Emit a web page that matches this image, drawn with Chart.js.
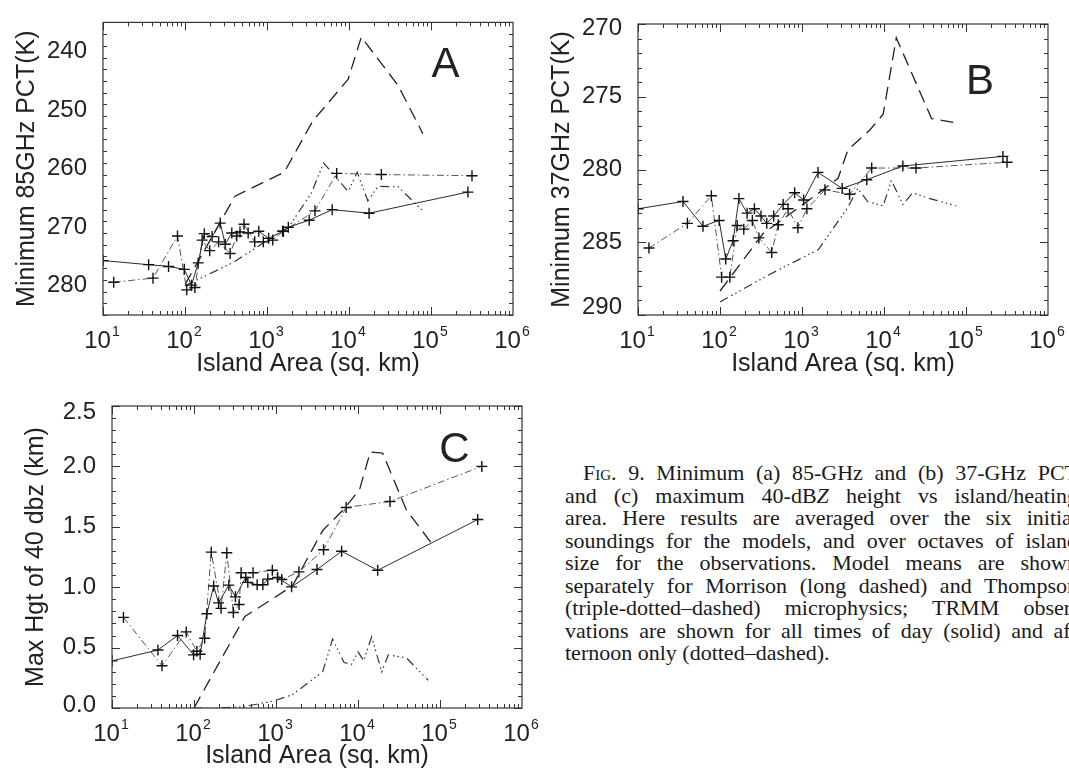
<!DOCTYPE html>
<html>
<head>
<meta charset="utf-8">
<script src="https://cdn.jsdelivr.net/npm/chart.js@4.4.1/dist/chart.umd.min.js"></script>
<style>
  body { margin: 0; width: 1069px; height: 772px; overflow: hidden; background: #fff; position: relative; }
  canvas { position: absolute; }
  #caption { position: absolute; left: 565px; top: 462px; font-family: "Liberation Serif", "Times New Roman", serif;
             font-size: 22px; line-height: 22.5px; color: #1a1a1a; }
  #caption .ln { width: 513px; height: 22.5px; text-align: justify; text-align-last: justify; }
  #caption .first { padding-left: 18px; width: 495px; }
  #caption .last { text-align-last: left; }
  .sc { font-variant: small-caps; }
</style>
</head>
<body>
<canvas id="panelA" width="535" height="385" style="left:0;top:0"></canvas>
<canvas id="panelB" width="534" height="385" style="left:535px;top:0"></canvas>
<canvas id="panelC" width="560" height="387" style="left:0;top:385px"></canvas>

<div id="caption">
  <div class="ln first"><span class="sc">Fig</span>. 9. Minimum (a) 85-GHz and (b) 37-GHz PCT</div>
  <div class="ln">and (c) maximum 40-dB<i>Z</i> height vs island/heating</div>
  <div class="ln">area. Here results are averaged over the six initial</div>
  <div class="ln">soundings for the models, and over octaves of island</div>
  <div class="ln">size for the observations. Model means are shown</div>
  <div class="ln">separately for Morrison (long dashed) and Thompson</div>
  <div class="ln">(triple-dotted–dashed) microphysics; TRMM obser-</div>
  <div class="ln">vations are shown for all times of day (solid) and af-</div>
  <div class="ln last">ternoon only (dotted–dashed).</div>
</div>

<script>
// tick values
const decadeTicks = [10, 100, 1000, 10000, 100000, 1000000];
const pctTicksA = [240, 250, 260, 270, 280];
const pctTicksB = [270, 275, 280, 285, 290];
const hgtTicksC = [0.0, 0.5, 1.0, 1.5, 2.0, 2.5];

// --- A: minimum 85 GHz PCT (K) ---
// TRMM, all times of day (solid)
const areaAllA = [10, 36, 63, 98, 120, 145, 172, 214, 269, 309, 372, 468, 589, 794, 1047, 1549, 1820, 3273, 6237, 17579, 281838];
const pctAllA  = [275.7, 276.4, 276.7, 277.2, 279.9, 276.1, 271.1, 271.6, 269.3, 272.9, 271.0, 270.8, 271.0, 270.7, 271.9, 270.7, 270.0, 268.8, 267.0, 267.6, 264.0];
// TRMM, afternoon (dotted-dashed)
const areaPmA = [13.5, 40.7, 81, 105, 132, 162, 200, 257, 355, 427, 525, 708, 902, 1175, 1585, 3846, 7079, 24831, 316228];
const pctPmA  = [279.4, 278.7, 271.5, 280.7, 280.3, 272.2, 274.0, 272.5, 274.5, 271.5, 269.5, 272.5, 272.5, 272.2, 270.7, 267.2, 260.8, 261.0, 261.2];
// Morrison (long dashed)
const areaMorA = [100, 407, 1622, 3631, 6457, 9772, 14125, 39811, 79433];
const pctMorA  = [279.8, 264.7, 260.6, 251.8, 247.7, 244.7, 237.5, 245.8, 254.0];
// Thompson (triple-dotted-dashed)
const areaThoA = [100, 389, 1047, 1820, 3467, 4898, 9772, 12589, 16982, 22646, 39811, 79433];
const pctThoA  = [280.0, 276.0, 272.1, 270.05, 264.2, 259.0, 263.9, 260.6, 265.5, 263.0, 263.1, 267.2];

// --- B: minimum 37 GHz PCT (K) ---
const areaAllB = [10, 35.4, 62, 97.7, 117.5, 144.5, 170, 214, 263, 316, 371.5, 452, 589, 813, 1047, 1567, 3090, 6166, 16982, 281838];
const pctAllB  = [282.7, 282.2, 283.9, 283.5, 286.15, 284.9, 282.0, 283.0, 282.7, 283.2, 283.7, 283.2, 282.4, 281.6, 282.1, 280.2, 281.3, 280.7, 279.76, 279.1];
const areaPmB = [13.6, 40, 78.5, 104.7, 131.8, 162, 195, 248, 298.5, 427, 513, 676, 891, 1148, 1905, 3802, 7079, 24547, 316228];
const pctPmB  = [285.4, 283.7, 281.8, 287.4, 287.4, 283.85, 284.1, 283.5, 284.7, 285.7, 283.8, 282.7, 284.0, 282.7, 281.4, 281.7, 279.9, 279.9, 279.5];
const areaMorB = [100, 335, 1800, 2754, 3631, 6683, 9772, 14125, 38019, 75858];
const pctMorB  = [288.35, 284.4, 281.4, 280.6, 278.66, 277.3, 276.2, 270.95, 276.5, 276.8];
const areaThoB = [100, 407, 1585, 3631, 4786, 6310, 9772, 12303, 16982, 22387, 36308, 75858];
const pctThoB  = [289.1, 287.2, 285.5, 282.6, 281.3, 282.2, 282.5, 280.75, 282.4, 281.6, 282.0, 282.5];

// --- C: max height of 40 dBZ (km) ---
const areaAllC = [10, 36.3, 63, 98.9, 118.9, 143.5, 173.8, 199.5, 266, 320, 427, 453, 589, 692, 794, 1047, 1549, 3162, 6310, 17378, 288403];
const hgtAllC  = [0.39, 0.48, 0.60, 0.44, 0.445, 0.78, 1.01, 0.87, 1.017, 0.92, 1.08, 1.04, 1.02, 1.02, 1.067, 1.08, 1.003, 1.146, 1.297, 1.14, 1.56];
const areaPmC = [13.8, 40.7, 80.4, 108.4, 134.9, 162.2, 213.8, 251.2, 302, 355, 376, 525, 902, 1175, 1905, 3802, 7178, 24547, 323594];
const hgtPmC  = [0.75, 0.35, 0.63, 0.47, 0.577, 1.29, 0.825, 1.285, 0.79, 0.857, 1.12, 1.12, 1.14, 1.064, 1.127, 1.31, 1.66, 1.71, 2.0];
const areaMorC = [100, 417, 1585, 3715, 6839, 10471, 14125, 19953, 38905, 77625];
const hgtMorC  = [0.0, 0.757, 1.01, 1.47, 1.65, 1.81, 2.12, 2.11, 1.64, 1.37];
const areaThoC = [100, 200, 400, 955, 1585, 3715, 4898, 6761, 8318, 10000, 11749, 14655, 19498, 23442, 38905, 71614];
const hgtThoC  = [0.0, 0.0, 0.01, 0.06, 0.11, 0.30, 0.57, 0.377, 0.36, 0.465, 0.39, 0.59, 0.30, 0.44, 0.415, 0.23];

const sans = "'Liberation Sans', Arial, Helvetica, sans-serif";
Chart.defaults.font.family = sans;
Chart.defaults.color = "#222";

function pts(xs, ys) {
    return xs.map((x, i) => ({ x: x, y: ys[i] }));
}

function trmmAll(data) {
    return { data, borderColor: "#2b2b2b", borderWidth: 1, tension: 0,
             pointStyle: "cross", pointRadius: 5.5, pointBorderWidth: 1.4, pointBorderColor: "#111" };
}
function trmmPm(data) {
    return { data, borderColor: "#555", borderWidth: 1, borderDash: [7, 3, 1.5, 3], tension: 0,
             pointStyle: "cross", pointRadius: 5.5, pointBorderWidth: 1.4, pointBorderColor: "#111" };
}
function morrison(data) {
    return { data, borderColor: "#222", borderWidth: 1.3, borderDash: [13, 7], tension: 0, pointRadius: 0 };
}
function thompson(data) {
    return { data, borderColor: "#333", borderWidth: 1.2, borderDash: [9, 4, 1.5, 3, 1.5, 3, 1.5, 4], tension: 0, pointRadius: 0 };
}

// box with inward ticks on all four sides, 10^n labels, panel letter
const framePlugin = {
    id: "frame",
    afterDatasetsDraw(chart, args, opts) {
        const { ctx, chartArea: a } = chart;
        const x = chart.scales.x, y = chart.scales.y;
        ctx.save();
        ctx.strokeStyle = "#333";
        ctx.lineWidth = 1.2;
        ctx.strokeRect(a.left, a.top, a.right - a.left, a.bottom - a.top);

        ctx.lineWidth = 1;
        ctx.beginPath();
        for (let d = 10; d < 1e6; d *= 10) {
            for (let m = 1; m < 10; m++) {
                const px = Math.round(x.getPixelForValue(d * m)) + 0.5;
                const len = m === 1 ? 8 : 4;
                ctx.moveTo(px, a.bottom); ctx.lineTo(px, a.bottom - len);
                ctx.moveTo(px, a.top); ctx.lineTo(px, a.top + len);
            }
        }
        const n = Math.round((y.max - y.min) / opts.minorStep);
        for (let i = 0; i <= n; i++) {
            const v = y.min + i * opts.minorStep;
            const major = opts.majors.some(t => Math.abs(t - v) < 1e-6);
            const py = Math.round(y.getPixelForValue(v)) + 0.5;
            const len = major ? 8 : 4;
            ctx.moveTo(a.left, py); ctx.lineTo(a.left + len, py);
            ctx.moveTo(a.right, py); ctx.lineTo(a.right - len, py);
        }
        ctx.stroke();

        // x tick labels 10^n
        ctx.fillStyle = "#222";
        ctx.textBaseline = "alphabetic";
        ctx.textAlign = "left";
        const base = a.bottom + 33;
        decadeTicks.forEach(v => {
            const px = x.getPixelForValue(v);
            const exp = String(Math.round(Math.log10(v)));
            ctx.font = "24px " + sans;
            const w1 = ctx.measureText("10").width;
            ctx.font = "14px " + sans;
            const w2 = ctx.measureText(exp).width;
            const left = px - (w1 + 1 + w2) / 2 - 1;
            ctx.font = "24px " + sans;
            ctx.fillText("10", left, base);
            ctx.font = "14px " + sans;
            ctx.fillText(exp, left + w1 + 1, base - 12);
        });

        // panel letter
        ctx.font = "42px " + sans;
        ctx.textAlign = "center";
        ctx.textBaseline = "middle";
        ctx.fillText(opts.letter.text, x.getPixelForValue(opts.letter.x), y.getPixelForValue(opts.letter.y));
        ctx.restore();
    }
};

function makePanel(id, p) {
    const edge = p.edge || {};
    new Chart(document.getElementById(id), {
        type: "line",
        data: {
            datasets: [
                trmmAll(pts(p.allX, p.allY)),
                trmmPm(pts(p.pmX, p.pmY)),
                morrison(pts(p.morX, p.morY)),
                thompson(pts(p.thoX, p.thoY))
            ]
        },
        options: {
            responsive: false,
            animation: false,
            devicePixelRatio: 1,
            layout: { padding: p.pad },
            plugins: {
                legend: { display: false },
                tooltip: { enabled: false },
                frame: { minorStep: p.minorStep, majors: p.yTicks, letter: p.letter }
            },
            scales: {
                x: {
                    type: "logarithmic", min: 10, max: 1e6,
                    grid: { display: false }, border: { display: false },
                    ticks: { display: false },
                    title: { display: true, text: "Island Area (sq. km)", color: "#222",
                             font: { size: 25 }, padding: { top: 0, bottom: p.xTitlePad } },
                    afterFit: s => { s.height = p.xHeight; }
                },
                y: {
                    type: "linear", min: p.yMin, max: p.yMax, reverse: p.reverse,
                    grid: { display: false }, border: { display: false },
                    afterBuildTicks: s => { s.ticks = p.yTicks.map(v => ({ value: v })); },
                    ticks: {
                        color: "#222", padding: 8,
                        // end labels are nudged inside the frame, like the original plot
                        callback: v => {
                            const t = p.fmt(v), s = edge[v];
                            if (!s) return t;
                            return s > 0 ? ["", t] : [t, ""];
                        },
                        font: c => {
                            const s = c.tick ? edge[c.tick.value] : 0;
                            return s ? { size: 24, lineHeight: (2 * Math.abs(s)) + "px" } : { size: 24 };
                        }
                    },
                    title: { display: true, text: p.yTitle, color: "#222",
                             font: { size: 25 }, padding: { top: p.yTitlePad, bottom: 0 } },
                    afterFit: s => { s.width = p.yWidth; }
                }
            }
        },
        plugins: [framePlugin]
    });
}

makePanel("panelA", {
    allX: areaAllA, allY: pctAllA, pmX: areaPmA, pmY: pctPmA,
    morX: areaMorA, morY: pctMorA, thoX: areaThoA, thoY: pctThoA,
    yMin: 235, yMax: 285, reverse: true, yTicks: pctTicksA, minorStep: 2,
    fmt: v => String(v), yTitle: "Minimum 85GHz PCT(K)",
    pad: { top: 12, right: 22, bottom: 0, left: 0 },
    yWidth: 103, xHeight: 70, yTitlePad: 12, xTitlePad: 6,
    letter: { text: "A", x: 1.5e5, y: 242.4 }
});

makePanel("panelB", {
    allX: areaAllB, allY: pctAllB, pmX: areaPmB, pmY: pctPmB,
    morX: areaMorB, morY: pctMorB, thoX: areaThoB, thoY: pctThoB,
    yMin: 270, yMax: 290, reverse: true, yTicks: pctTicksB, minorStep: 1,
    fmt: v => String(v), yTitle: "Minimum 37GHz PCT(K)",
    edge: { 270: 4.5, 290: -8 },
    pad: { top: 12, right: 21, bottom: 0, left: 0 },
    yWidth: 103, xHeight: 70, yTitlePad: 12, xTitlePad: 6,
    letter: { text: "B", x: 1.48e5, y: 274 }
});

makePanel("panelC", {
    allX: areaAllC, allY: hgtAllC, pmX: areaPmC, pmY: hgtPmC,
    morX: areaMorC, morY: hgtMorC, thoX: areaThoC, thoY: hgtThoC,
    yMin: 0, yMax: 2.5, reverse: false, yTicks: hgtTicksC, minorStep: 0.1,
    fmt: v => v.toFixed(1), yTitle: "Max Hgt of 40 dbz (km)",
    edge: { 2.5: 6.5, 0: -3 },
    pad: { top: 18, right: 38, bottom: 0, left: 0 },
    yWidth: 112, xHeight: 64, yTitlePad: 21, xTitlePad: 1,
    letter: { text: "C", x: 1.5e5, y: 2.135 }
});
</script>
</body>
</html>
